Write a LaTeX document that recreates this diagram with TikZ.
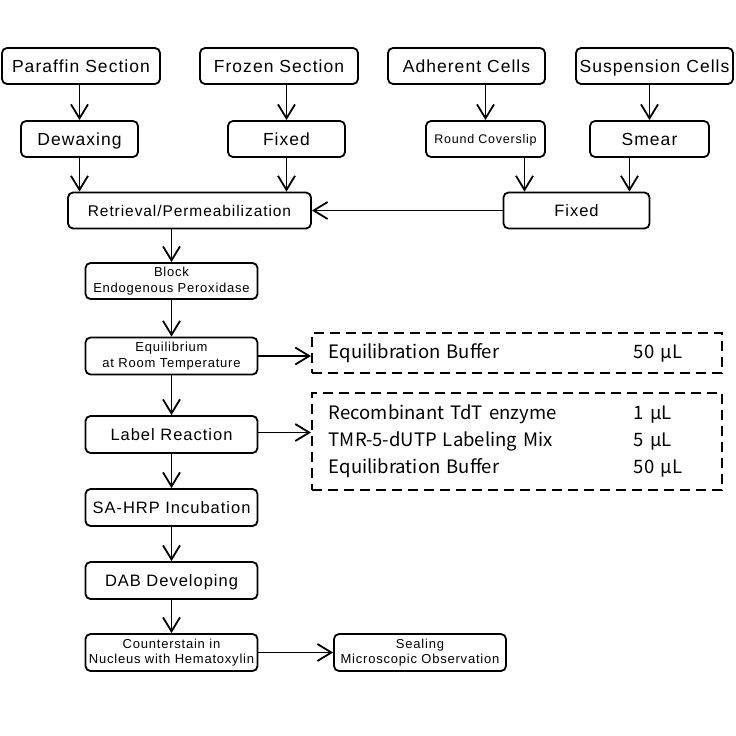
\documentclass[tikz,border=0pt]{standalone}
\usepackage{fontspec}
\newfontfamily\stepfont{Liberation Sans}[LetterSpace=6.0]
\newfontfamily\notefont{Noto Sans CJK SC}
\usetikzlibrary{arrows.meta}

\begin{document}
\begin{tikzpicture}[x=1pt,y=-1pt,
    stepbox/.style={draw,line width=1.8pt,rounded corners=5pt,inner sep=0pt,minimum height=36pt,
      text height=12pt,text depth=0pt,font=\stepfont\fontsize{17.5}{21}\selectfont},
    colbox/.style={stepbox,minimum width=172pt,font=\stepfont\fontsize{16.5}{20}\selectfont},
    smallbox/.style={draw,line width=1.8pt,rounded corners=5pt,inner sep=0pt,minimum height=37pt,
      minimum width=172pt,align=center,font=\stepfont\fontsize{13}{15.5}\selectfont},
    notebox/.style={draw,line width=1.8pt,dash pattern=on 10pt off 6pt,anchor=west,
      inner xsep=17pt,inner ysep=0pt,text width=376pt,align=left,
      font=\notefont\fontsize{18.5}{27}\selectfont},
    arr/.style={line width=1.8pt,-{Straight Barb[length=14pt,width=17pt]}}]
    \useasboundingbox (0,0) rectangle (736,736);

    % sample sources
    \node[stepbox,minimum width=158pt] (para) at (81,66) {Paraffin Section};
    \node[stepbox,minimum width=158pt] (froz) at (279,66) {Frozen Section};
    \node[stepbox,minimum width=157pt] (adh) at (466.5,66) {Adherent Cells};
    \node[stepbox,minimum width=157pt] (susp) at (654.5,66) {Suspension Cells};

    \node[stepbox,minimum width=117pt] (dewax) at (79.5,139) {Dewaxing};
    \node[stepbox,minimum width=117pt] (fixL) at (286.5,139) {Fixed};
    \node[stepbox,minimum width=119pt,text height=9pt,font=\stepfont\fontsize{12.5}{15}\selectfont] (round) at (485.5,139) {Round Coverslip};
    \node[stepbox,minimum width=119pt] (smear) at (649.5,139) {Smear};

    \node[stepbox,minimum width=243pt,text height=11pt,font=\stepfont\fontsize{15.5}{19}\selectfont] (retr) at (189.5,210.5) {Retrieval/Permeabilization};
    \node[stepbox,minimum width=146pt,font=\stepfont\fontsize{16.5}{20}\selectfont] (fixR) at (576.5,210.5) {Fixed};

    % main column
    \node[smallbox,minimum height=36pt] (block) at (171.5,281) {Block\\Endogenous Peroxidase};
    \node[smallbox] (equ) at (171.5,356) {Equilibrium\\at Room Temperature};
    \node[colbox,minimum height=37pt] (lab) at (171.5,434.5) {Label Reaction};
    \node[colbox,minimum height=37pt] (sahrp) at (171.5,507.5) {SA-HRP Incubation};
    \node[colbox,minimum height=37pt] (dab) at (171.5,580.5) {DAB Developing};
    \node[smallbox] (counter) at (171.5,652.5) {Counterstain in\\Nucleus with Hematoxylin};
    \node[smallbox] (seal) at (420,652.5) {Sealing\\Microscopic Observation};

    % reagents
    \node[notebox,minimum height=40pt] (buf) at (311,353) {%
      \begin{tabular}{@{}p{305pt}@{}l@{}}
        Equilibration Buffer & 50 µL
      \end{tabular}};
    \node[notebox,minimum height=97pt] (mix) at (311,441.5) {%
      \begin{tabular}{@{}p{305pt}@{}l@{}}
        Recombinant TdT enzyme & 1 µL\\
        TMR-5-dUTP Labeling Mix & 5 µL\\
        Equilibration Buffer & 50 µL
      \end{tabular}};

    \draw[arr] (dewax.north |- para.south) -- (dewax.north);
    \draw[arr] (fixL.north |- froz.south) -- (fixL.north);
    \draw[arr] (round.north |- adh.south) -- (round.north);
    \draw[arr] (smear.north |- susp.south) -- (smear.north);

    \draw[arr] (dewax.south) -- (dewax.south |- retr.north);
    \draw[arr] (fixL.south) -- (fixL.south |- retr.north);
    \draw[arr] ([xshift=39pt]round.south) -- ([xshift=39pt]round.south |- fixR.north);
    \draw[arr] ([xshift=-20pt]smear.south) -- ([xshift=-20pt]smear.south |- fixR.north);
    \draw[arr] (fixR.west) -- (retr.east);

    \draw[arr] (block.north |- retr.south) -- (block.north);
    \draw[arr] (block) -- (equ);
    \draw[arr] (equ) -- (lab);
    \draw[arr] (lab) -- (sahrp);
    \draw[arr] (sahrp) -- (dab);
    \draw[arr] (dab) -- (counter);
    \draw[arr] (counter) -- (seal);

    \draw[arr] (equ.east) -- (equ.east -| buf.west);
    \draw[arr] ([yshift=2pt]lab.east) -- ([yshift=2pt]lab.east -| mix.west);
  \end{tikzpicture}
\end{document}
